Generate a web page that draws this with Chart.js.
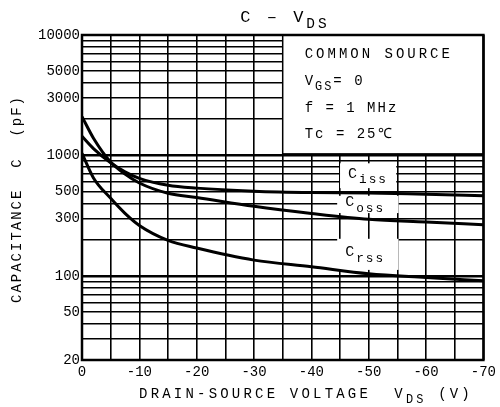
<!DOCTYPE html>
<html>
<head>
<meta charset="utf-8">
<script src="https://cdn.jsdelivr.net/npm/chart.js@4"></script>
<style>
  html, body { margin: 0; padding: 0; background: #fff; }
  #wrap { width: 500px; height: 407px; }
</style>
</head>
<body>
<div id="wrap"><canvas id="cap"></canvas></div>
<script>
// drain-source voltage (V)
var vds = [0, -2, -5, -7.5, -10, -15, -20, -30, -40, -50, -60, -70];
// capacitance (pF)
var ciss = [1440, 1140, 870, 730, 645, 565, 535, 505, 492, 488, 475, 462];
var coss = [2100, 1390, 880, 700, 590, 485, 448, 378, 330, 295, 280, 266];
var crss = [1040, 650, 440, 330, 262, 197, 170, 135, 119, 104, 97, 91];

var yTickLabels = [20, 50, 100, 300, 500, 1000, 3000, 5000, 10000];
var xTickLabels = [0, -10, -20, -30, -40, -50, -60, -70];

var FONT = "'Liberation Mono', monospace";

function pts(ys) {
    return vds.map(function(v, i){ return {x: v, y: ys[i]}; });
}

// all log grid lines 20..10000
var yGrid = [];
[10, 100, 1000].forEach(function(d){
    for (var k = 1; k < 10; k++) {
        var v = k * d;
        if (v >= 20) yGrid.push(v);
    }
});
yGrid.push(10000);

// text with subscript
function subText(ctx, parts, x, y, size, align, sp) {
    ctx.save();
    ctx.letterSpacing = (sp == null ? 2 : sp) + 'px';
    var w = 0;
    parts.forEach(function(p){
        ctx.font = (p.sub ? size * 0.85 : size) + 'px ' + FONT;
        p.w = ctx.measureText(p.t).width;
        w += p.w;
    });
    var cx = align === 'center' ? x - w / 2 : x;
    ctx.textBaseline = 'alphabetic';
    ctx.fillStyle = '#000';
    parts.forEach(function(p){
        ctx.font = (p.sub ? size * 0.85 : size) + 'px ' + FONT;
        ctx.fillText(p.t, cx, p.sub ? y + size * 0.35 : y);
        cx += p.w;
    });
    ctx.restore();
}

var notes = {
    id: 'notes',
    beforeDatasetsDraw: function(chart) {
        var ctx = chart.ctx, xs = chart.scales.x, ys = chart.scales.y;
        var a = chart.chartArea;
        ctx.save();
        // condition box
        var bx = xs.getPixelForValue(-35);
        var by = ys.getPixelForValue(1030);
        ctx.fillStyle = '#fff';
        ctx.fillRect(bx, a.top, a.right - bx, by - a.top);
        ctx.strokeStyle = '#000';
        ctx.lineWidth = 1.5;
        ctx.strokeRect(bx, a.top, a.right - bx, by - a.top);
        // curve label boxes
        var boxes = [
            {x0: -45, x1: -54.8, y0: 860, y1: 535, t: 'iss'},
            {x0: -44.5, x1: -55.2, y0: 462, y1: 332, t: 'oss'},
            {x0: -44.5, x1: -55.2, y0: 203, y1: 112, t: 'rss'}
        ];
        boxes.forEach(function(b){
            var l = xs.getPixelForValue(b.x0), r = xs.getPixelForValue(b.x1);
            var t = ys.getPixelForValue(b.y0), btm = ys.getPixelForValue(b.y1);
            ctx.fillStyle = '#fff';
            ctx.fillRect(l, t, r - l, btm - t);
        });
        ctx.restore();
        boxes.forEach(function(b){
            var l = xs.getPixelForValue(b.x0);
            var t = ys.getPixelForValue(b.y0), btm = ys.getPixelForValue(b.y1);
            subText(ctx, [{t: 'C'}, {t: b.t, sub: true}], l + 8, (t + btm) / 2 + 2, 15, 'left');
        });
        // condition text
        var tx = bx + 22;
        subText(ctx, [{t: 'COMMON SOURCE'}], tx, a.top + 23, 14, 'left', 3);
        subText(ctx, [{t: 'V'}, {t: 'GS', sub: true}, {t: '= 0'}], tx, a.top + 50, 14, 'left');
        subText(ctx, [{t: 'f = 1 MHz'}], tx, a.top + 77, 14, 'left');
        subText(ctx, [{t: 'Tc = 25\u2103'}], tx, a.top + 103, 14, 'left');
    },
    afterDraw: function(chart) {
        var ctx = chart.ctx, a = chart.chartArea;
        ctx.save();
        ctx.strokeStyle = '#000';
        ctx.lineWidth = 2.5;
        ctx.strokeRect(a.left, a.top, a.right - a.left, a.bottom - a.top);
        ctx.restore();
        // title
        subText(ctx, [{t: 'C \u2013 V'}, {t: 'DS', sub: true}], 285, 22, 17, 'center', 3);
        // x title
        subText(ctx, [{t: 'DRAIN-SOURCE VOLTAGE  V'}, {t: 'DS', sub: true}, {t: ' (V)'}], 306, 398, 14, 'center', 3.2);
        // y title
        ctx.save();
        ctx.translate(21, 199);
        ctx.rotate(-Math.PI / 2);
        subText(ctx, [{t: 'CAPACITANCE  C  (pF)'}], 0, 0, 14, 'center', 2);
        ctx.restore();
    }
};

var lineStyle = {
    borderColor: '#000',
    borderWidth: 3,
    pointRadius: 0,
    fill: false,
    cubicInterpolationMode: 'monotone'
};

new Chart(document.getElementById('cap'), {
    type: 'line',
    data: {
        datasets: [
            Object.assign({label: 'Ciss', data: pts(ciss)}, lineStyle),
            Object.assign({label: 'Coss', data: pts(coss)}, lineStyle),
            Object.assign({label: 'Crss', data: pts(crss)}, lineStyle)
        ]
    },
    options: {
        responsive: true,
        maintainAspectRatio: false,
        animation: false,
        layout: { padding: { left: 0, top: 35, right: 12, bottom: 0 } },
        plugins: {
            legend: { display: false },
            tooltip: { enabled: false }
        },
        scales: {
            x: {
                type: 'linear',
                min: -70,
                max: 0,
                reverse: true,
                afterFit: function(s){ s.height = 47; },
                afterBuildTicks: function(s){
                    var t = [];
                    for (var v = 0; v >= -70; v -= 5) t.push({value: v});
                    s.ticks = t;
                },
                grid: {
                    color: '#000',
                    lineWidth: 1.6,
                    drawTicks: false
                },
                border: { display: false },
                ticks: {
                    color: '#000',
                    padding: 4,
                    maxRotation: 0,
                    autoSkip: false,
                    font: { family: FONT, size: 14 },
                    callback: function(v){
                        return xTickLabels.indexOf(v) >= 0 ? String(v) : '';
                    }
                }
            },
            y: {
                type: 'logarithmic',
                min: 20,
                max: 10000,
                afterFit: function(s){ s.width = 82; },
                afterBuildTicks: function(s){
                    s.ticks = yGrid.map(function(v){ return {value: v}; });
                },
                grid: {
                    color: '#000',
                    lineWidth: function(c){
                        var v = c.tick ? c.tick.value : 0;
                        return (v === 100 || v === 1000) ? 2.6 : 1.6;
                    },
                    drawTicks: false
                },
                border: { display: false },
                ticks: {
                    color: '#000',
                    padding: 2,
                    autoSkip: false,
                    font: { family: FONT, size: 14 },
                    callback: function(v){
                        return yTickLabels.indexOf(v) >= 0 ? String(v) : '';
                    }
                }
            }
        }
    },
    plugins: [notes]
});
</script>
</body>
</html>
